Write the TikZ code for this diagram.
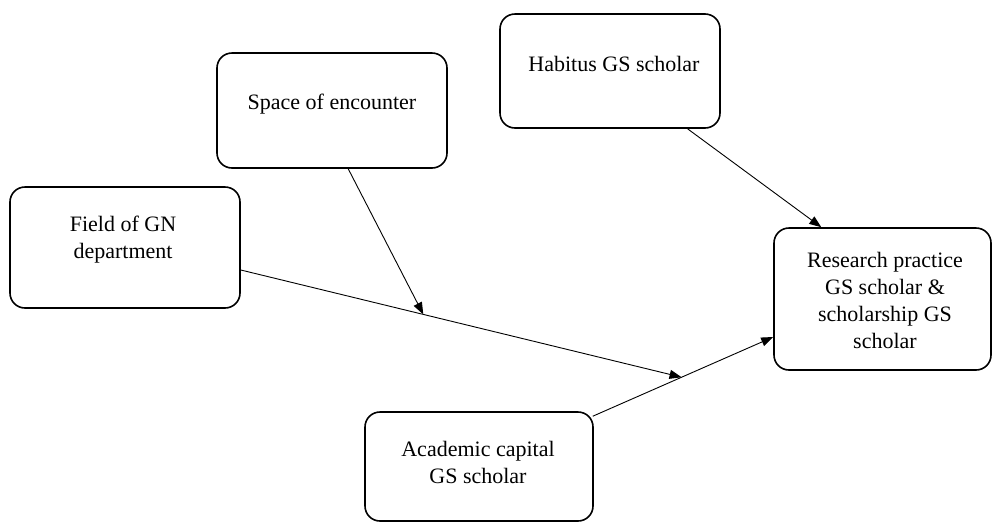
\documentclass[tikz,border=0pt]{standalone}
\usepackage{fontspec}
\setmainfont{Liberation Serif}
\usetikzlibrary{arrows.meta,calc}
\begin{document}
\begin{tikzpicture}[x=1pt,y=-1pt,
  box/.style={draw,line width=1.6pt,rounded corners=15pt,inner sep=0pt},
  lbl/.style={align=center,font=\fontsize{22}{27}\selectfont,inner sep=0pt},
  conn/.style={line width=0.9pt,-{Triangle[length=12pt,width=9pt]}}]
\useasboundingbox (0,0) rectangle (993,523);
% boxes
\node[box,minimum width=230pt,minimum height=115pt] (space) at (332,110.5) {};
\node[box,minimum width=220pt,minimum height=114pt] (habitus) at (610,71) {};
\node[box,minimum width=230pt,minimum height=121pt] (field) at (125,247.5) {};
\node[box,minimum width=217pt,minimum height=142pt] (research) at (882.5,299) {};
\node[box,minimum width=228pt,minimum height=109pt] (academic) at (479,466.5) {};
% texts
\node[lbl] (spaceT) at (332,104) {Space of encounter};
\node[lbl] (habitusT) at (614,64) {Habitus GS scholar};
\node[lbl] (fieldT) at (123,240) {Field of GN\\department};
\node[lbl] (researchT) at (885,300) {Research practice\\GS scholar \&\\scholarship GS\\scholar};
\node[lbl] (academicT) at (478,462) {Academic capital\\GS scholar};
% connector end points
\coordinate (acS) at ($(academic.north east)+(-1,5)$);
\coordinate (resW) at ($(research.west)+(0,38)$);
\coordinate (m2) at ($(acS)!0.492!(resW)$);
\coordinate (fS) at ($(field.east)+(0,22.5)$);
\coordinate (m1) at ($(fS)!0.414!(m2)$);
\coordinate (spS) at ($(space.south west)!0.57!(space.south east)$);
\coordinate (habS) at ($(habitus.south west)!0.85!(habitus.south east)$);
\coordinate (resN) at ($(research.north west)!0.22!(research.north east)$);
% connectors
\draw[conn] (acS) -- (resW);
\draw[conn] (fS) -- (m2);
\draw[conn] (spS) -- (m1);
\draw[conn] (habS) -- (resN);
\end{tikzpicture}
\end{document}
